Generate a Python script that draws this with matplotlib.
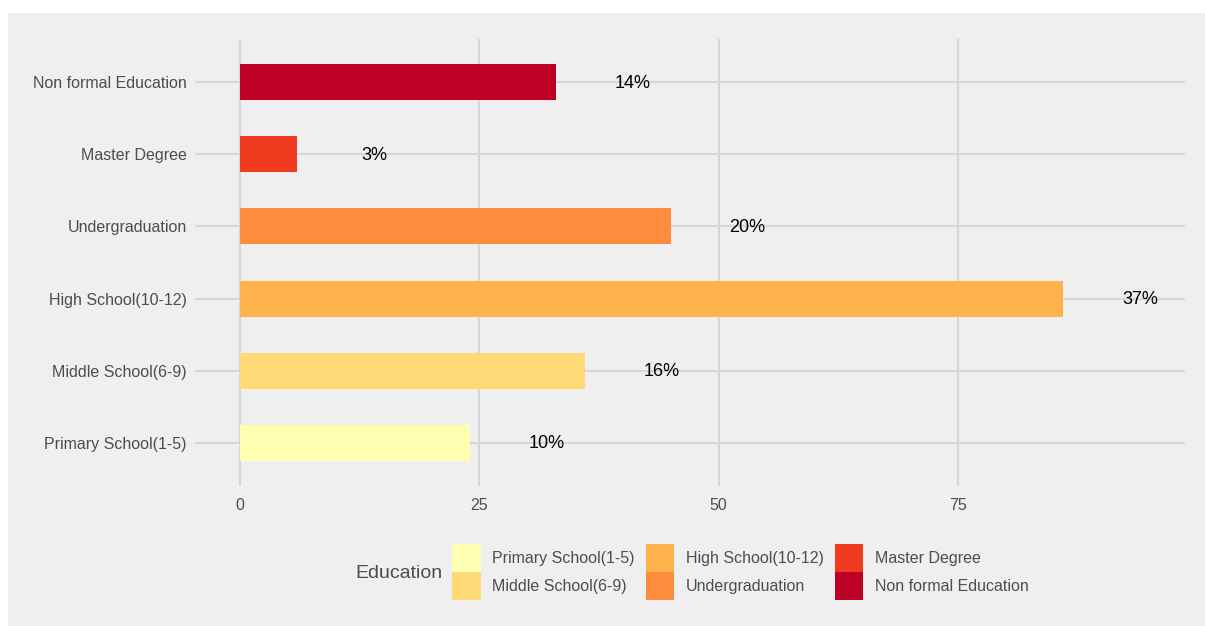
import matplotlib
matplotlib.use('Agg')

import matplotlib.pyplot as plt
from matplotlib.patches import Patch, Rectangle

plt.rcParams['font.family'] = ['Liberation Sans', 'DejaVu Sans']

education = ['Primary School(1-5)', 'Middle School(6-9)', 'High School(10-12)',
             'Undergraduation', 'Master Degree', 'Non formal Education']
counts = [24, 36, 86, 45, 6, 33]
colors = ['#FFFFB2', '#FED976', '#FEB24C', '#FD8D3C', '#F03B20', '#BD0026']
xticks = [0, 25, 50, 75]

total = sum(counts)
pct_labels = [f'{round(c / total * 100)}%' for c in counts]

bg = '#EFEFEF'
grid_col = '#D7D7D7'
text_col = '#4D4D4D'

fig = plt.figure(figsize=(12.05, 6.26), dpi=100, facecolor='white')
fig.patches.append(Rectangle((8 / 1205, 0), 1, 1 - 13 / 626,
                             transform=fig.transFigure, facecolor=bg,
                             edgecolor='none', zorder=-5))

ax = fig.add_axes([195 / 1205, 1 - 486 / 626, (1185 - 195) / 1205, (486 - 39) / 626])
ax.set_facecolor(bg)
for s in ax.spines.values():
    s.set_visible(False)

ypos = list(range(len(education)))
ax.barh(ypos, counts, height=0.5, color=colors, zorder=3)
for y, c, lab in zip(ypos, counts, pct_labels):
    ax.text(c + 8, y - 0.015, lab, ha='center', va='center', fontsize=13,
            color='black', zorder=4)

ax.set_xlim(-4.7, 98.7)
ax.set_ylim(-0.6, len(education) - 0.4)
ax.set_xticks(xticks)
ax.set_yticks(ypos)
ax.set_yticklabels(education)
ax.tick_params(length=0, labelsize=11.5, labelcolor=text_col)
ax.tick_params(axis='y', pad=6)
ax.tick_params(axis='x', pad=9)
ax.grid(True, color=grid_col, linewidth=1.5, zorder=1)
ax.set_axisbelow(True)

handles = [Patch(facecolor=col, edgecolor='none', label=lab)
           for col, lab in zip(colors, education)]
fig.legend(handles=handles, ncol=3, loc='center left',
           bbox_to_anchor=(452 / 1205, 1 - 572 / 626), frameon=False,
           fontsize=11.5, labelcolor=text_col, handlelength=1.8,
           handleheight=2.25, handletextpad=0.7, columnspacing=0.7,
           labelspacing=0.05, borderpad=0, borderaxespad=0)
fig.text(355 / 1205, 1 - 574 / 626, 'Education', fontsize=14,
         color=text_col, ha='left', va='center')

fig.savefig('out.png', dpi=100, facecolor=fig.get_facecolor())
